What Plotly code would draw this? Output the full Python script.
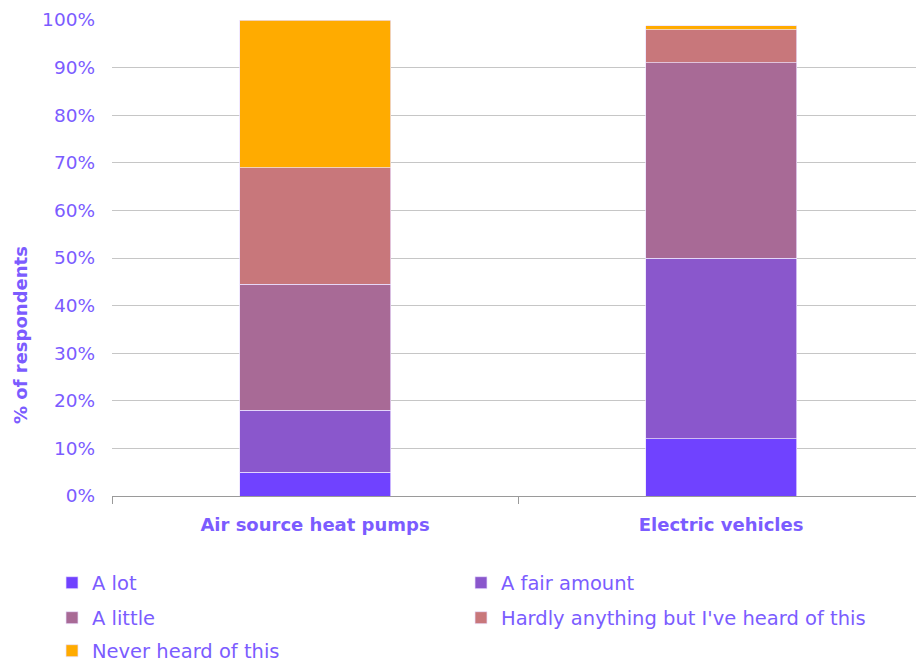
import plotly.graph_objects as go

categories = ["Air source heat pumps", "Electric vehicles"]
series_names = ["A lot", "A fair amount", "A little",
                "Hardly anything but I've heard of this", "Never heard of this"]
a_lot = [5, 12]
a_fair_amount = [13, 38]
a_little = [26.5, 41]
hardly_anything = [24.5, 7]
never_heard = [31, 0.8]
series_values = [a_lot, a_fair_amount, a_little, hardly_anything, never_heard]
colors = ["#7042FF", "#8A57CC", "#A86A96", "#C8777B", "#FFAB00"]
legend_rows = ["legend", "legend", "legend2", "legend2", "legend3"]
y_ticks = [0, 10, 20, 30, 40, 50, 60, 70, 80, 90, 100]
y_tick_labels = [f"{v}%" for v in y_ticks]
y_title = "% of respondents"

TEXT = "#7B5CFF"
FONT = "'DejaVu Sans', sans-serif"

fig = go.Figure()
for name, vals, col, lg in zip(series_names, series_values, colors, legend_rows):
    fig.add_trace(go.Bar(
        x=categories, y=vals, name=name, legend=lg,
        marker=dict(color=col, line=dict(color="rgba(235,225,255,0.9)", width=0.8)),
        width=0.372,
    ))

PLOT_LEFT = 112
PLOT_TOP = 20
PLOT_BOTTOM = 496
H = PLOT_BOTTOM - PLOT_TOP
W = 916 - PLOT_LEFT


def row_y(px):
    return (PLOT_BOTTOM - px) / H


def col_x(px):
    return (px - PLOT_LEFT) / W


legend_common = dict(
    orientation="h",
    x=col_x(52), xanchor="left",
    yanchor="middle",
    entrywidth=364, entrywidthmode="pixels",
    traceorder="normal",
    font=dict(family=FONT, size=19.5, color=TEXT),
    itemwidth=30,
    bgcolor="rgba(0,0,0,0)",
)

fig.update_layout(
    barmode="stack",
    width=916, height=663,
    margin=dict(l=PLOT_LEFT, r=0, t=PLOT_TOP, b=663 - PLOT_BOTTOM, autoexpand=False),
    paper_bgcolor="white", plot_bgcolor="white",
    font=dict(family=FONT, color=TEXT, size=17),
    xaxis=dict(
        range=[-0.5, 1.48],
        showgrid=False, automargin=False,
        showline=True, linecolor="#9a9a9a", linewidth=1,
        ticks="outside", tickson="boundaries", ticklen=7, tickcolor="#9a9a9a",
        tickfont=dict(family=FONT, size=18, color=TEXT, weight="bold"),
        ticklabelstandoff=12,
    ),
    yaxis=dict(
        range=[0, 100], automargin=False,
        tickvals=y_ticks, ticktext=y_tick_labels,
        showgrid=True, gridcolor="#c6c6c6", gridwidth=1,
        zeroline=False,
        tickfont=dict(family=FONT, size=18.5, color=TEXT),
        ticks="", ticklabelstandoff=16,
    ),
    annotations=[dict(
        text=y_title, textangle=-90, showarrow=False,
        xref="paper", yref="paper", x=col_x(20), y=row_y(335),
        xanchor="center", yanchor="middle",
        font=dict(family=FONT, size=18, color=TEXT, weight="bold"),
    )],
    legend=dict(legend_common, y=row_y(583)),
    legend2=dict(legend_common, y=row_y(618)),
    legend3=dict(legend_common, y=row_y(651)),
    bargap=0.6,
)

fig.write_html("out.html", config={"displayModeBar": False},
               post_script="document.body.style.margin='0';")
